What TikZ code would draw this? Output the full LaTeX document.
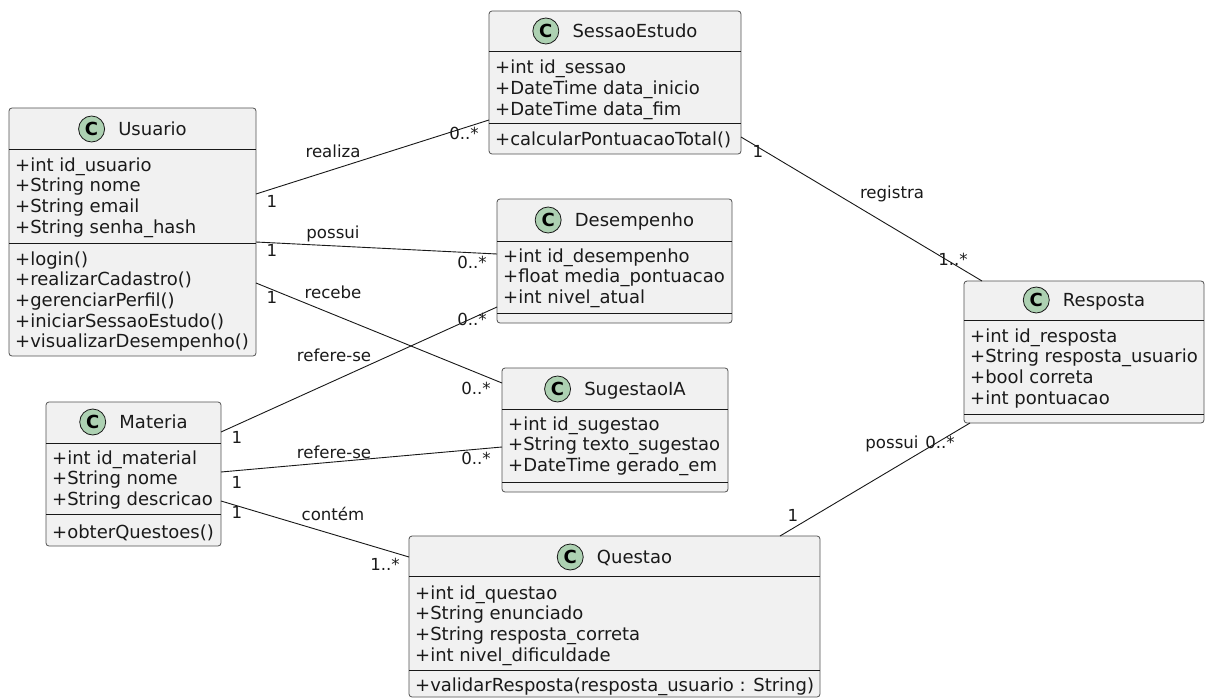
\documentclass[tikz,border=0pt]{standalone}
\usepackage{fontspec}
\setmainfont{DejaVu Sans}
\definecolor{boxfill}{HTML}{F1F1F1}
\definecolor{boxline}{HTML}{181818}
\definecolor{circfill}{HTML}{ADD1B2}
\definecolor{txt}{HTML}{1A1A1A}
\tikzset{
  classbox/.style={draw=boxline!75, line width=0.8pt, fill=boxfill, rounded corners=3pt, inner sep=0pt, outer sep=0pt},
  sepline/.style={draw=boxline, line width=0.9pt},
  row/.style={inner sep=0pt, anchor=base west, text=txt, font=\fontsize{18}{20.7}\selectfont},
  ttl/.style={inner sep=0pt, anchor=base, text=txt, font=\fontsize{18}{20.7}\selectfont},
  cbadge/.style={circle, draw=boxline, line width=0.8pt, fill=circfill, minimum size=26pt, inner sep=0pt, text=black, font=\fontsize{18}{18}\bfseries\selectfont},
  assoc/.style={draw=boxline, line width=0.9pt},
  lbl/.style={inner sep=0pt, anchor=base, text=txt, font=\fontsize{16.6}{19}\selectfont},
}
\newcommand\classrows[4]{%
  \foreach \rowtext [count=\i] in {#4}{\node[row] (#1\i) at (#2,{#3+20.7*(\i-1)}) {\rowtext};}}
\newcommand\classtitle[4]{%
  \node[ttl] (#1-t) at ({#2+20},{#3+6.5}) {#4};
  \node[cbadge] (#1-c) at ([xshift=-26.5pt,yshift=6.5pt]#1-t.base west) {C};}
\begin{document}
\begin{tikzpicture}[x=1pt,y=-1pt]
\useasboundingbox (0,0) rectangle (1209,698);
\fill[white] (0,0) rectangle (1209,698);

% Usuario
\node[classbox, minimum width=247, minimum height=248] (usuario) at (132.5,232) {};
\draw[sepline] (9,149) -- (256,149);
\draw[sepline] (9,243) -- (256,243);
\classtitle{usuario}{132.5}{129}{Usuario}
\classrows{usuarioA}{15}{171}{+int id\_usuario,+String nome,+String email,+String senha\_hash}
\classrows{usuarioM}{15}{265}{+login(),+realizarCadastro(),+gerenciarPerfil(),+iniciarSessaoEstudo(),+visualizarDesempenho()}

% SessaoEstudo
\node[classbox, minimum width=252, minimum height=143] (sessao) at (615,82.5) {};
\draw[sepline] (489,51) -- (741,51);
\draw[sepline] (489,123) -- (741,123);
\classtitle{sessao}{615}{31}{SessaoEstudo}
\classrows{sessaoA}{495}{74}{+int id\_sessao,+DateTime data\_inicio,+DateTime data\_fim}
\classrows{sessaoM}{495}{145}{+calcularPontuacaoTotal()}

% Desempenho
\node[classbox, minimum width=235, minimum height=124] (desemp) at (614.5,261) {};
\draw[sepline] (497,241) -- (732,241);
\draw[sepline] (497,313) -- (732,313);
\classtitle{desemp}{614.5}{220}{Desempenho}
\classrows{desempA}{503}{262}{+int id\_desempenho,+float media\_pontuacao,+int nivel\_atual}

% Materia
\node[classbox, minimum width=175, minimum height=144] (materia) at (133.5,474) {};
\draw[sepline] (46,443) -- (221,443);
\draw[sepline] (46,514) -- (221,514);
\classtitle{materia}{133.5}{422}{Materia}
\classrows{materiaA}{52}{464}{+int id\_material,+String nome,+String descricao}
\classrows{materiaM}{52}{538}{+obterQuestoes()}

% SugestaoIA
\node[classbox, minimum width=226, minimum height=124] (sugest) at (615,430) {};
\draw[sepline] (502,409) -- (728,409);
\draw[sepline] (502,482) -- (728,482);
\classtitle{sugest}{615}{389}{SugestaoIA}
\classrows{sugestA}{508}{430}{+int id\_sugestao,+String texto\_sugestao,+DateTime gerado\_em}

% Questao
\node[classbox, minimum width=411, minimum height=161] (questao) at (614.5,616.5) {};
\draw[sepline] (409,576) -- (820,576);
\draw[sepline] (409,670) -- (820,670);
\classtitle{questao}{614.5}{557}{Questao}
\classrows{questaoA}{415}{599}{+int id\_questao,+String enunciado,+String resposta\_correta,+int nivel\_dificuldade}
\classrows{questaoM}{415}{691}{+validarResposta(resposta\_usuario : String)}

% Resposta
\node[classbox, minimum width=240, minimum height=142] (resposta) at (1084,352) {};
\draw[sepline] (964,320) -- (1204,320);
\draw[sepline] (964,414) -- (1204,414);
\classtitle{resposta}{1084}{300}{Resposta}
\classrows{respostaA}{970}{342}{+int id\_resposta,+String resposta\_usuario,+bool correta,+int pontuacao}

% Connectors
\draw[assoc] ([yshift=-86pt]usuario.north east) -- ([yshift=-109pt]sessao.north west);
\draw[assoc] ([yshift=-134pt]usuario.north east) -- ([yshift=-55pt]desemp.north west);
\draw[assoc] ([yshift=-175pt]usuario.north east) -- ([yshift=-15pt]sugest.north west);
\draw[assoc] ([yshift=-30pt]materia.north east) -- ([yshift=-108pt]desemp.north west);
\draw[assoc] ([yshift=-70pt]materia.north east) -- ([yshift=-79pt]sugest.north west);
\draw[assoc] ([yshift=-99pt]materia.north east) -- ([yshift=-21pt]questao.north west);
\draw[assoc] ([yshift=-126pt]sessao.north east) -- ([xshift=18pt]resposta.north west);
\draw[assoc] ([xshift=371pt]questao.north west) -- ([xshift=6pt]resposta.south west);

% Association labels
\node[lbl] (l-realiza) at (333,157.5) {realiza};
\node[lbl] (l-possui1) at (333,238.5) {possui};
\node[lbl] (l-recebe) at (333,298.5) {recebe};
\node[lbl] (l-refere1) at (334,361.5) {refere-se};
\node[lbl] (l-refere2) at (334,458.5) {refere-se};
\node[lbl] (l-contem) at (333,520.5) {contém};
\node[lbl] (l-registra) at (892,198.5) {registra};
\node[lbl] (l-possui2) at (892,448.5) {possui};

% Multiplicities
\node[lbl] (m1a) at (272,207.5) {1};
\node[lbl] (m1b) at (464,139.5) {0..*};
\node[lbl] (m2a) at (272,256.5) {1};
\node[lbl] (m2b) at (472,268.5) {0..*};
\node[lbl] (m3a) at (272,303.5) {1};
\node[lbl] (m3b) at (476,394.5) {0..*};
\node[lbl] (m4a) at (237,443.5) {1};
\node[lbl] (m4b) at (472,325.5) {0..*};
\node[lbl] (m5a) at (237,488.5) {1};
\node[lbl] (m5b) at (476,464.5) {0..*};
\node[lbl] (m6a) at (237,518.5) {1};
\node[lbl] (m6b) at (385,570.5) {1..*};
\node[lbl] (m7a) at (758,157.5) {1};
\node[lbl] (m7b) at (953,265.5) {1..*};
\node[lbl] (m8a) at (793,521.5) {1};
\node[lbl] (m8b) at (940,448.5) {0..*};
\end{tikzpicture}
\end{document}
